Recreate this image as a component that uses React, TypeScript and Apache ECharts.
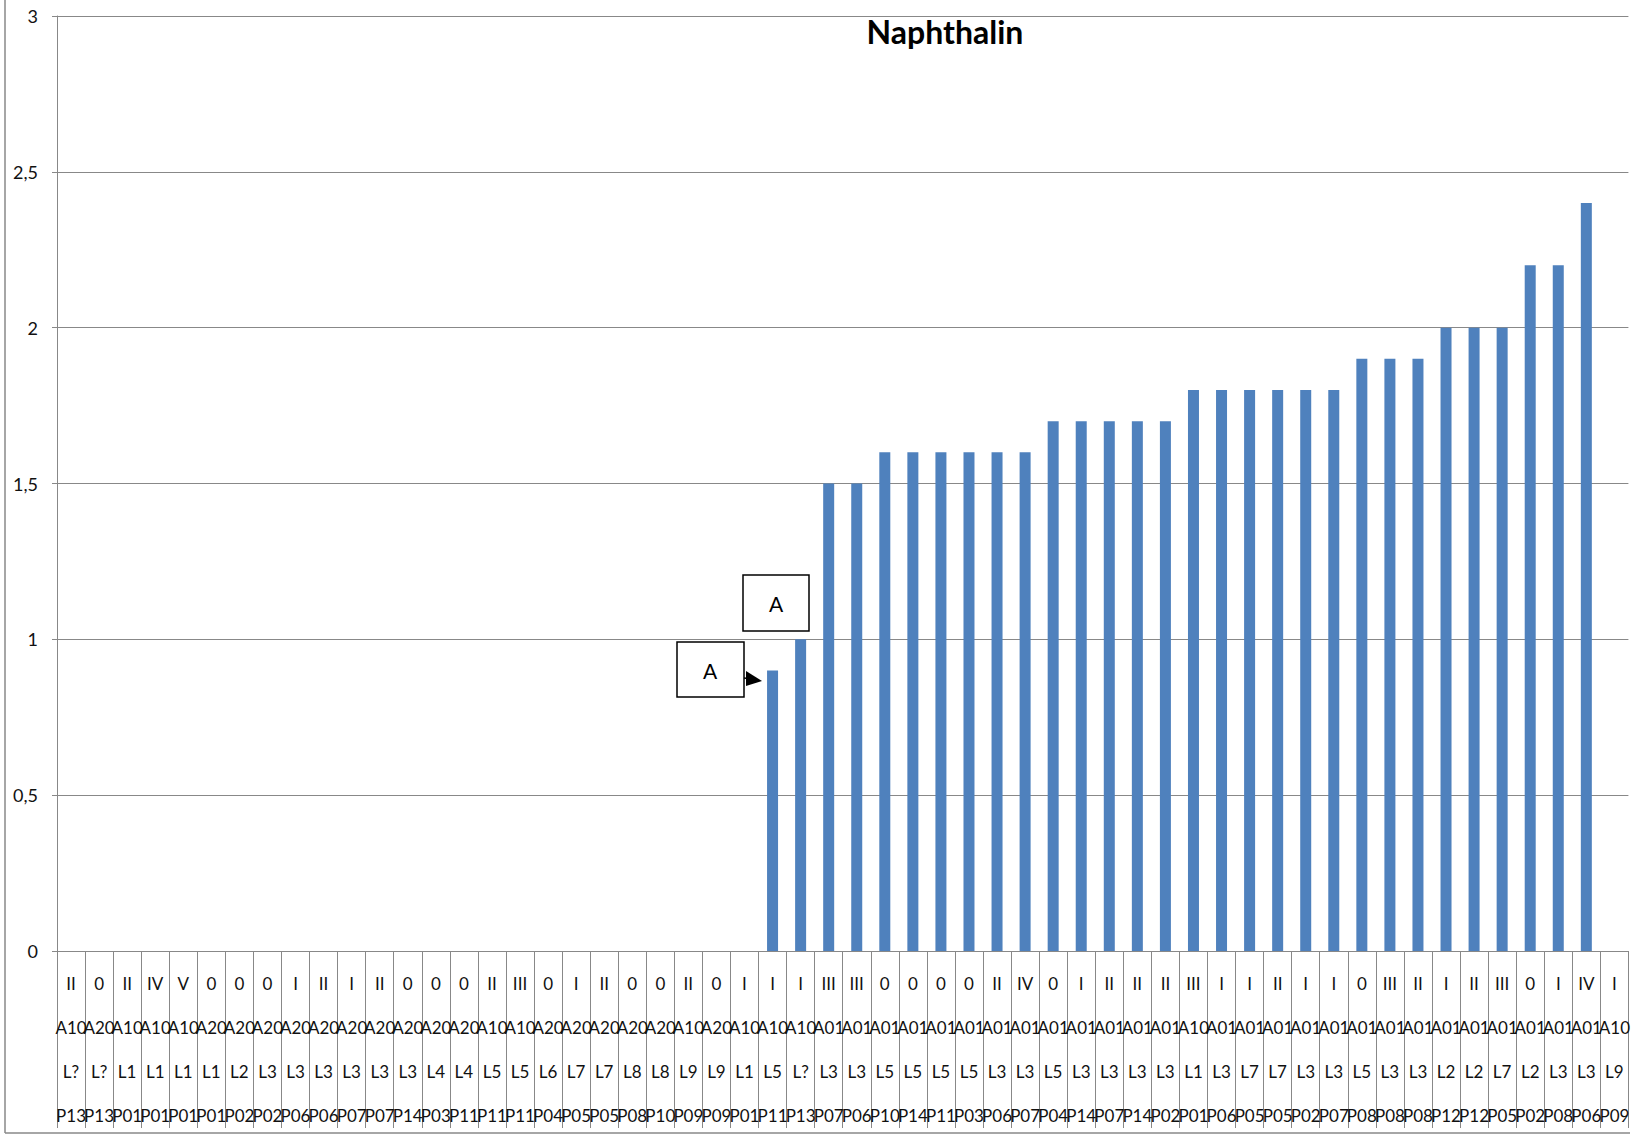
import React, { useEffect, useRef } from "react";
import * as echarts from "echarts";

const romans = ["II","0","II","IV","V","0","0","0","I","II","I","II","0","0","0","II","III","0","I","II","0","0","II","0","I","I","I","III","III","0","0","0","0","II","IV","0","I","II","II","II","III","I","I","II","I","I","0","III","II","I","II","III","0","I","IV","I"];
const areas = ["A10","A20","A10","A10","A10","A20","A20","A20","A20","A20","A20","A20","A20","A20","A20","A10","A10","A20","A20","A20","A20","A20","A10","A20","A10","A10","A10","A01","A01","A01","A01","A01","A01","A01","A01","A01","A01","A01","A01","A01","A10","A01","A01","A01","A01","A01","A01","A01","A01","A01","A01","A01","A01","A01","A01","A10"];
const levels = ["L?","L?","L1","L1","L1","L1","L2","L3","L3","L3","L3","L3","L3","L4","L4","L5","L5","L6","L7","L7","L8","L8","L9","L9","L1","L5","L?","L3","L3","L5","L5","L5","L5","L3","L3","L5","L3","L3","L3","L3","L1","L3","L7","L7","L3","L3","L5","L3","L3","L2","L2","L7","L2","L3","L3","L9"];
const points = ["P13","P13","P01","P01","P01","P01","P02","P02","P06","P06","P07","P07","P14","P03","P11","P11","P11","P04","P05","P05","P08","P10","P09","P09","P01","P11","P13","P07","P06","P10","P14","P11","P03","P06","P07","P04","P14","P07","P14","P02","P01","P06","P05","P05","P02","P07","P08","P08","P08","P12","P12","P05","P02","P08","P06","P09"];
const values = [0,0,0,0,0,0,0,0,0,0,0,0,0,0,0,0,0,0,0,0,0,0,0,0,0,0.9,1.0,1.5,1.5,1.6,1.6,1.6,1.6,1.6,1.6,1.7,1.7,1.7,1.7,1.7,1.8,1.8,1.8,1.8,1.8,1.8,1.9,1.9,1.9,2.0,2.0,2.0,2.2,2.2,2.4,0];
const yTicks = [0, 0.5, 1, 1.5, 2, 2.5, 3];
const title = "Naphthalin";

const categories = romans.map((r, i) => `${r}\n${areas[i]}\n${levels[i]}\n${points[i]}`);

const GRAY = "#888888";

export default function App() {
  const ref = useRef<HTMLDivElement>(null);
  useEffect(() => {
    document.body.style.margin = "0";
    const chart = echarts.init(ref.current!, null, { renderer: "svg" });
    chart.setOption({
      animation: false,
      backgroundColor: "#ffffff",
      grid: { left: 57, right: 4, top: 16, bottom: 181, containLabel: false },
      xAxis: {
        type: "category",
        data: categories,
        boundaryGap: true,
        axisLine: { show: true, lineStyle: { color: GRAY, width: 1 } },
        axisTick: { show: true, interval: 0, length: 177, lineStyle: { color: GRAY, width: 1 } },
        axisLabel: {
          interval: 0,
          margin: 10,
          color: "#111",
          fontFamily: "Lato",
          fontSize: 17,
          lineHeight: 44,
          verticalAlign: "top",
        },
        splitLine: { show: false },
      },
      yAxis: {
        type: "value",
        min: yTicks[0],
        max: yTicks[yTicks.length - 1],
        interval: 0.5,
        axisLine: { show: true, lineStyle: { color: GRAY, width: 1 } },
        axisTick: { show: true, length: 5, lineStyle: { color: GRAY } },
        axisLabel: {
          margin: 19,
          color: "#111",
          fontFamily: "Lato",
          fontSize: 18,
          formatter: (v: number) => String(v).replace(".", ","),
        },
        splitLine: { show: true, lineStyle: { color: GRAY, width: 1 } },
      },
      series: [
        {
          type: "bar",
          data: values,
          barWidth: 11,
          itemStyle: { color: "#4F81BD" },
        },
      ],
      graphic: [
        { type: "line", shape: { x1: 5, y1: 0, x2: 5, y2: 1133 }, style: { stroke: GRAY, lineWidth: 1.5 } },
        { type: "line", shape: { x1: 5, y1: 1133, x2: 1630, y2: 1133 }, style: { stroke: GRAY, lineWidth: 1.5 } },
        {
          type: "text",
          x: 945,
          y: 31,
          style: { text: title, font: "bold 32px Lato", fill: "#000", align: "center", verticalAlign: "middle" },
        },
        { type: "rect", shape: { x: 743, y: 575, width: 66, height: 56 }, style: { fill: "#fff", stroke: "#000", lineWidth: 1.5 } },
        { type: "text", x: 776, y: 603, style: { text: "A", font: "21px Lato", fill: "#000", align: "center", verticalAlign: "middle" } },
        { type: "rect", shape: { x: 677, y: 642, width: 67, height: 55 }, style: { fill: "#fff", stroke: "#000", lineWidth: 1.5 } },
        { type: "text", x: 710, y: 670, style: { text: "A", font: "21px Lato", fill: "#000", align: "center", verticalAlign: "middle" } },
        { type: "line", shape: { x1: 744, y1: 678, x2: 752, y2: 679 }, style: { stroke: "#000", lineWidth: 1.5 } },
        { type: "polygon", shape: { points: [[746, 671], [762, 681], [746, 686]] }, style: { fill: "#000" } },
      ],
    });
    return () => chart.dispose();
  }, []);
  return <div ref={ref} style={{ width: 1633, height: 1137 }} />;
}
